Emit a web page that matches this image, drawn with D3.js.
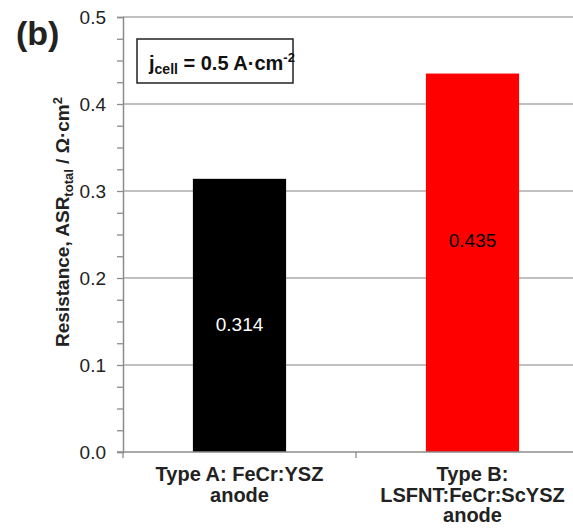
<!DOCTYPE html>
<html>
<head>
<meta charset="utf-8">
<script src="https://cdn.jsdelivr.net/npm/d3@7"></script>
<style>
  body { margin: 0; background: #fff; }
  svg { font-family: Arial, "Liberation Sans", sans-serif; }
</style>
</head>
<body>
<div class="chart"></div>
<script>
// data
const categories = ['Type A', 'Type B'];
const categoryLines = [['Type A: FeCr:YSZ', 'anode'], ['Type B:', 'LSFNT:FeCr:ScYSZ', 'anode']];
const asrValues = [0.314, 0.435];
const barColors = ['#000000', '#ff0000'];
const labelColors = ['#ffffff', '#000000'];
const majorTicks = [0.0, 0.1, 0.2, 0.3, 0.4, 0.5];
const minorTicks = [0.025, 0.05, 0.075, 0.125, 0.15, 0.175, 0.225, 0.25, 0.275,
                    0.325, 0.35, 0.375, 0.425, 0.45, 0.475];

const width = 573, height = 531;
const margin = ({top: 17, left: 123, bottom: 79});
const plotRight = 589; // the plot runs past the right edge of the picture

const svg = d3.select('.chart').append('svg')
    .attr('width', width)
    .attr('height', height);

//scales
const xScale = d3.scaleBand()
    .domain(categories)
    .range([margin.left, plotRight])
    .paddingInner(0.6)
    .paddingOuter(0.3);

const yScale = d3.scaleLinear()
    .domain([0, 0.5])
    .range([height - margin.bottom, margin.top]);

//gridlines
svg.append('g')
    .selectAll('line')
    .data(majorTicks.slice(1))
    .enter()
    .append('line')
    .attr('x1', margin.left)
    .attr('x2', plotRight)
    .attr('y1', d => yScale(d))
    .attr('y2', d => yScale(d))
    .attr('stroke', '#ababab')
    .attr('stroke-width', 1.3);

//bars
svg.selectAll('.bar')
    .data(asrValues)
    .enter()
    .append('rect')
    .attr('class', 'bar')
    .attr('x', (d, i) => xScale(categories[i]))
    .attr('width', xScale.bandwidth())
    .attr('y', d => yScale(d))
    .attr('height', d => yScale(0) - yScale(d))
    .attr('fill', (d, i) => barColors[i]);

//value labels
const labelShift = [9, -22];
svg.selectAll('.val')
    .data(asrValues)
    .enter()
    .append('text')
    .attr('class', 'val')
    .attr('x', (d, i) => xScale(categories[i]) + xScale.bandwidth() / 2)
    .attr('y', (d, i) => yScale(d / 2) + labelShift[i])
    .attr('dy', '0.35em')
    .attr('text-anchor', 'middle')
    .attr('font-size', 19)
    .attr('fill', (d, i) => labelColors[i])
    .text(d => d3.format('.3f')(d));

//y axis, major and minor ticks
const yAxis = svg.append('g')
    .attr('transform', 'translate(' + margin.left + ',0)')
    .call(d3.axisLeft(yScale).tickValues(majorTicks).tickFormat(d3.format('.1f')).tickSize(6).tickPadding(11));
yAxis.select('.domain').attr('stroke', '#8c8c8c').attr('stroke-width', 1.5);
yAxis.selectAll('.tick line').attr('stroke', '#8c8c8c').attr('stroke-width', 1.3);
yAxis.selectAll('.tick text').attr('font-size', 19).attr('fill', '#222').attr('font-family', null);

const yMinor = svg.append('g')
    .attr('transform', 'translate(' + margin.left + ',0)')
    .call(d3.axisLeft(yScale).tickValues(minorTicks).tickFormat('').tickSize(6));
yMinor.select('.domain').remove();
yMinor.selectAll('.tick line').attr('stroke', '#8c8c8c').attr('stroke-width', 1.3);

//x axis line with category dividers
const xAxis = svg.append('g')
    .attr('transform', 'translate(0,' + yScale(0) + ')');
xAxis.append('line')
    .attr('x1', margin.left - 6)
    .attr('x2', plotRight)
    .attr('stroke', '#8c8c8c')
    .attr('stroke-width', 1.5);
xAxis.selectAll('.divider')
    .data([margin.left, xScale.step() + margin.left])
    .enter()
    .append('line')
    .attr('x1', d => d)
    .attr('x2', d => d)
    .attr('y1', 0)
    .attr('y2', 6)
    .attr('stroke', '#8c8c8c')
    .attr('stroke-width', 1.3);

//category labels
const catLabels = svg.selectAll('.cat')
    .data(categoryLines)
    .enter()
    .append('text')
    .attr('class', 'cat')
    .attr('text-anchor', 'middle')
    .attr('font-size', 20)
    .attr('font-weight', 'bold')
    .attr('fill', '#222');
catLabels.selectAll('tspan')
    .data((d, i) => d.map(line => ({line, i})))
    .enter()
    .append('tspan')
    .attr('x', d => xScale(categories[d.i]) + xScale.bandwidth() / 2)
    .attr('y', (d, j) => yScale(0) + 29 + j * 20.5)
    .text(d => d.line);

//y axis title
const ylabel = svg.append('text')
    .attr('transform', 'translate(69,222) rotate(-90)')
    .attr('text-anchor', 'middle')
    .attr('font-size', 19)
    .attr('font-weight', 'bold')
    .attr('fill', '#222');
ylabel.append('tspan').text('Resistance, ASR');
ylabel.append('tspan').attr('font-size', 13).attr('dy', 4).text('total');
ylabel.append('tspan').attr('dy', -4).text(' / Ω·cm');
ylabel.append('tspan').attr('font-size', 13).attr('dy', -7).text('2');

//panel letter
svg.append('text')
    .attr('x', 16)
    .attr('y', 45)
    .attr('font-size', 34)
    .attr('font-weight', 'bold')
    .attr('fill', '#222')
    .text('(b)');

//current density box
svg.append('rect')
    .attr('x', 137)
    .attr('y', 39)
    .attr('width', 156)
    .attr('height', 44)
    .attr('fill', '#fff')
    .attr('stroke', '#222')
    .attr('stroke-width', 1.5);
const jcell = svg.append('text')
    .attr('x', 149)
    .attr('y', 70)
    .attr('font-size', 20)
    .attr('font-weight', 'bold')
    .attr('fill', '#111');
jcell.append('tspan').text('j');
jcell.append('tspan').attr('font-size', 14).attr('dy', 4).text('cell');
jcell.append('tspan').attr('dy', -4).text(' = 0.5 A·cm');
jcell.append('tspan').attr('font-size', 13).attr('dy', -8).text('-2');
</script>
</body>
</html>
